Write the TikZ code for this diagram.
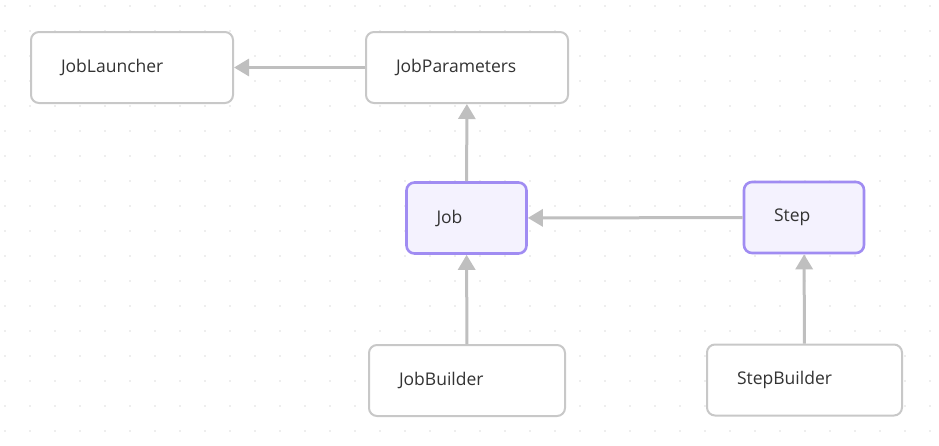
\documentclass[tikz,border=0pt]{standalone}
\usepackage{fontspec}
\setmainfont{Open Sans}
\usetikzlibrary{arrows.meta}
\definecolor{boxline}{HTML}{C8C8C8}
\definecolor{arrowgray}{HTML}{BFBFBF}
\definecolor{purpleline}{HTML}{A08CF2}
\definecolor{purplefill}{HTML}{F4F2FE}
\definecolor{textgray}{HTML}{333333}
\definecolor{griddot}{HTML}{DCDCDC}
\newcommand{\boxh}[0] {71}

\begin{document}
\begin{tikzpicture}[x=1pt,y=-1pt,
    plainbox/.style={shape=rectangle,rounded corners=8pt,draw=boxline,fill=white,line width=2pt,
        inner xsep=30pt,inner ysep=0pt,minimum height=\boxh pt,align=left,
        font=\fontsize{17.5}{20}\selectfont,text=textgray},
    classbox/.style={plainbox,draw=purpleline,fill=purplefill,line width=2.6pt},
    link/.style={-{Triangle[length=15pt,width=17pt]},line width=3pt,draw=arrowgray,fill=arrowgray}]
        \useasboundingbox (0,0) rectangle (939,445);
        %background dots
        \foreach \gx in {0,...,37} {
            \foreach \gy in {0,...,17} {
                \fill[griddot] (5+25*\gx, 6+25*\gy) circle (0.9pt);
            }
        }

        \node[plainbox,text width=142pt] (launcher) at (132, 67.5)     {JobLauncher};
        \node[plainbox,text width=142pt] (params) at (467, 67.5)     {JobParameters};
        \node[classbox,text width=60pt] (job) at (466.5, 218)     {Job};
        \node[classbox,text width=60pt] (step) at (804, 217.5)     {Step};
        \node[plainbox,text width=136pt] (jobbuilder) at (467, 380.5)     {JobBuilder};
        \node[plainbox,text width=135pt] (stepbuilder) at (804.5, 380)     {StepBuilder};

        %dependencies
        \draw[link] (params) -- (launcher);
        \draw[link] (job) -- (params);
        \draw[link] (step) -- (job);
        \draw[link] (jobbuilder) -- (job);
        \draw[link] (stepbuilder) -- (step);
\end{tikzpicture}
\end{document}
